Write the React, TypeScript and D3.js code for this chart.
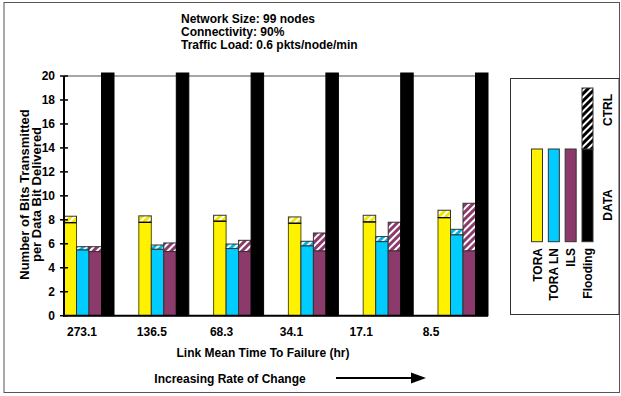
import React from "react";
import * as d3 from "d3";

const categories = ["273.1", "136.5", "68.3", "34.1", "17.1", "8.5"];
const seriesNames = ["TORA", "TORA LN", "ILS", "Flooding"];
const toraData = [7.76, 7.79, 7.88, 7.71, 7.82, 8.18];
const toraTotal = [8.3, 8.33, 8.38, 8.24, 8.38, 8.8];
const toraLnData = [5.48, 5.54, 5.6, 5.82, 6.18, 6.74];
const toraLnTotal = [5.76, 5.9, 5.98, 6.21, 6.6, 7.21];
const ilsData = [5.34, 5.35, 5.35, 5.4, 5.4, 5.4];
const ilsTotal = [5.76, 6.07, 6.29, 6.9, 7.8, 9.38];
// Flooding runs off the top of the scale
const floodingData = [30, 30, 30, 30, 30, 30];
const floodingTotal = [30, 30, 30, 30, 30, 30];
const yTicks = [0, 2, 4, 6, 8, 10, 12, 14, 16, 18, 20];
const titleLines = ["Network Size: 99 nodes", "Connectivity: 90%", "Traffic Load: 0.6 pkts/node/min"];
const colors = ["#FFF200", "#00CCFF", "#8B3A6B", "#000000"];

const W = 621;
const H = 396;
const FONT = "'Liberation Sans', Arial, sans-serif";

export default function App() {
  const x = d3.scaleBand<string>().domain(categories).range([64, 488]).paddingInner(0.3316).paddingOuter(0);
  const xi = d3.scaleBand<string>().domain(seriesNames).range([0, x.bandwidth()]).padding(0);
  const xLabel = d3.scalePoint<string>().domain(categories).range([82, 431]);
  const y = d3.scaleLinear().domain([0, 20]).range([315.7, 76]);
  const yMaxDraw = y(20.25);

  const data = [toraData, toraLnData, ilsData, floodingData];
  const totals = [toraTotal, toraLnTotal, ilsTotal, floodingTotal];

  const bars: React.ReactNode[] = [];
  categories.forEach((c, ci) => {
    seriesNames.forEach((s, si) => {
      const bx = (x(c) as number) + (xi(s) as number);
      const bw = xi.bandwidth();
      const dTop = Math.max(y(data[si][ci]), yMaxDraw);
      const tTop = Math.max(y(totals[si][ci]), yMaxDraw);
      const stroke = si === 0 ? "#555500" : si === 3 ? "#000" : "#333";
      if (tTop < dTop) {
        bars.push(
          <rect key={`c-${ci}-${si}`} x={bx} y={tTop} width={bw} height={dTop - tTop}
            fill={`url(#hatch${si})`} stroke="#333" strokeWidth={1} />
        );
      }
      bars.push(
        <rect key={`d-${ci}-${si}`} x={bx} y={dTop} width={bw} height={y(0) - dTop}
          fill={colors[si]} stroke={stroke} strokeWidth={1} />
      );
      if (si === 0) {
        bars.push(<line key={`l-${ci}`} x1={bx} x2={bx + bw} y1={dTop} y2={dTop} stroke="#000" strokeWidth={1.2} />);
      }
    });
  });

  const hatchColors = ["#F5E600", "#00B8E8", "#8B3A6B", "#000000"];

  // legend
  const legBarTop = 149;
  const legBarBottom = 241.7;
  const legX = d3.scalePoint<string>().domain(seriesNames).range([537, 587.5]);
  const legW = 11;

  return (
    <svg width={W} height={H} style={{ position: "absolute", left: 0, top: 0, background: "#fff" }} fontFamily={FONT}>
      <defs>
        {hatchColors.map((hc, i) => (
          <pattern key={i} id={`hatch${i}`} patternUnits="userSpaceOnUse" width={5} height={5}
            patternTransform="rotate(-45)">
            <rect width={5} height={5} fill={hc} />
            <rect x={0} y={0} width={5} height={2} fill="#fff" />
          </pattern>
        ))}
      </defs>
      <rect x={4} y={2.5} width={615.5} height={390} fill="#fff" stroke="#555" strokeWidth={1} />

      {titleLines.map((t, i) => (
        <text key={i} x={181} y={23 + i * 13} fontSize={12} fontWeight="bold" fill="#000">{t}</text>
      ))}

      {/* top gridline */}
      <line x1={64} x2={488} y1={y(20)} y2={y(20)} stroke="#888" strokeWidth={1.5} />

      {bars}

      {/* axes */}
      <line x1={64} x2={64} y1={y(20)} y2={y(0) + 1} stroke="#000" strokeWidth={2} />
      <line x1={63} x2={488} y1={y(0)} y2={y(0)} stroke="#000" strokeWidth={2} />
      {yTicks.map((t) => (
        <g key={t}>
          <line x1={60} x2={68} y1={y(t)} y2={y(t)} stroke="#000" strokeWidth={1.5} />
          <text x={55} y={y(t)} dy="0.35em" textAnchor="end" fontSize={12} fontWeight="bold">{t}</text>
        </g>
      ))}
      {categories.map((c) => (
        <text key={c} x={xLabel(c)} y={336} textAnchor="middle" fontSize={12} fontWeight="bold">{c}</text>
      ))}
      <text transform="translate(29,194.5) rotate(-90)" textAnchor="middle" fontSize={13} fontWeight="bold">Number of Bits Transmitted</text>
      <text transform="translate(40.5,194.5) rotate(-90)" textAnchor="middle" fontSize={13} fontWeight="bold">per Data Bit Delivered</text>

      <text x={263} y={357} textAnchor="middle" fontSize={12} fontWeight="bold">Link Mean Time To Failure (hr)</text>
      <text x={230} y={383} textAnchor="middle" fontSize={12} fontWeight="bold">Increasing Rate of Change</text>
      <line x1={336} x2={414} y1={378} y2={378} stroke="#000" strokeWidth={2} />
      <path d="M411,372.5 L426,378 L411,383.5 Z" fill="#000" />

      {/* legend */}
      <rect x={510.5} y={78.5} width={108.5} height={236} fill="#fff" stroke="#333" strokeWidth={1} />
      {seriesNames.map((s, si) => (
        <g key={s}>
          <rect x={(legX(s) as number) - legW / 2} y={legBarTop} width={legW} height={legBarBottom - legBarTop}
            fill={colors[si]} stroke="#333" strokeWidth={1} />
          <text transform={`translate(${(legX(s) as number) + 4.5},248) rotate(-90)`} textAnchor="end"
            fontSize={12} fontWeight="bold">{s}</text>
        </g>
      ))}
      <rect x={(legX("Flooding") as number) - legW / 2} y={88} width={legW} height={legBarTop - 88}
        fill="url(#hatch3)" stroke="#333" strokeWidth={1} />
      <text transform="translate(612,205) rotate(-90)" textAnchor="middle" fontSize={12} fontWeight="bold">DATA</text>
      <text transform="translate(612,110) rotate(-90)" textAnchor="middle" fontSize={12} fontWeight="bold">CTRL</text>
    </svg>
  );
}
